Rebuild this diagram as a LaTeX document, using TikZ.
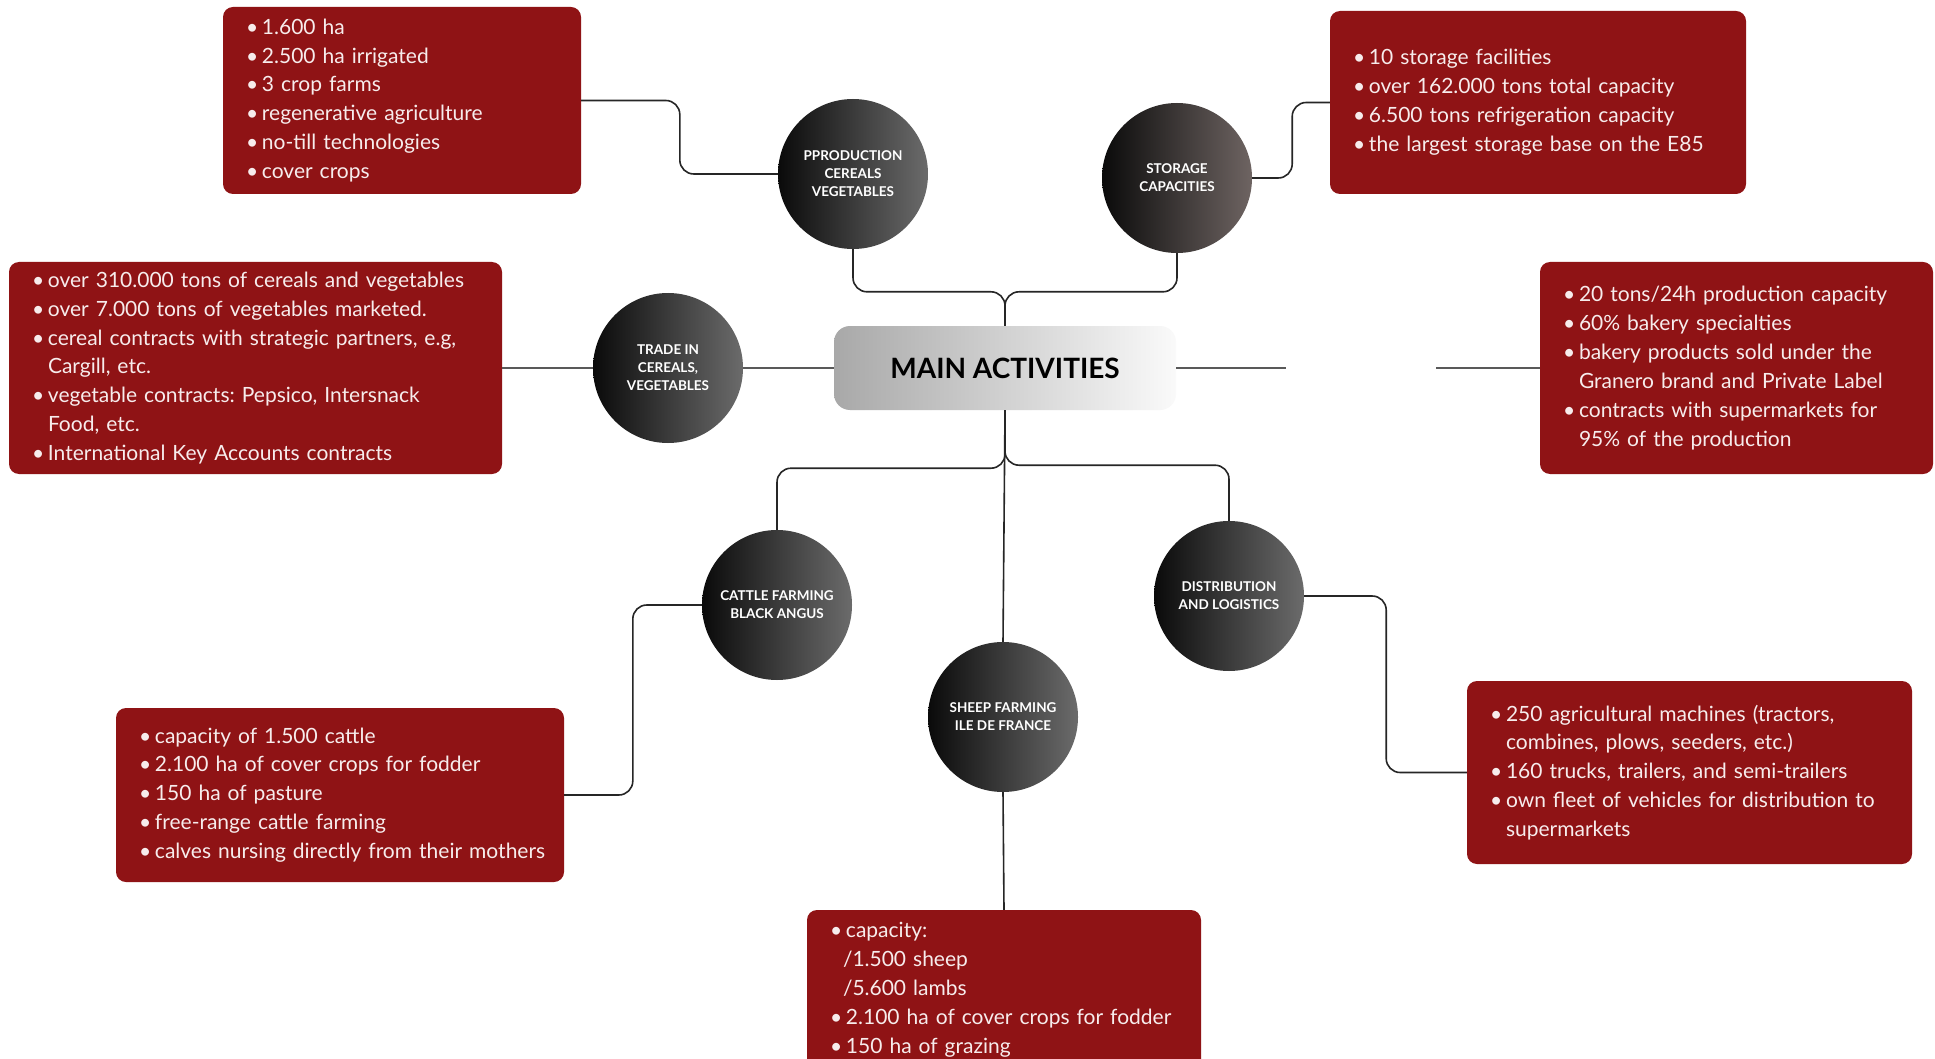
\documentclass[tikz,border=0pt]{standalone}
\usepackage{fontspec}
\setmainfont{Lato}
\usetikzlibrary{positioning}
\definecolor{boxred}{RGB}{143,19,21}
\definecolor{boxtxt}{RGB}{247,236,236}
\definecolor{linedark}{RGB}{38,38,38}
\definecolor{warmgray}{RGB}{110,100,98}
\newcommand{\itm}{\makebox[16pt][l]{\textbullet}}
\newcommand{\ind}{\hspace*{16pt}}
\frenchspacing
\begin{document}
\begin{tikzpicture}[x=1pt,y=-1pt,line join=round,
	detail/.style={fill=boxred,rounded corners=10pt,text=boxtxt,align=left,inner xsep=23pt,inner ysep=0pt,font=\fontsize{21}{28.9}\selectfont},
	topic/.style={circle,minimum size=150pt,inner sep=0pt,left color=black!96,right color=black!58,text=white,align=center,font=\bfseries\fontsize{13.5}{18}\selectfont},
	link/.style={draw=linedark,line width=1.6pt,rounded corners=14pt}]
	\fill[white] (0,0) rectangle (1935,1059);
	\useasboundingbox (0,0) rectangle (1935,1059);
	\clip (0,0) rectangle (1935,1059);
	% centre
	\node[rounded corners=16pt,left color=black!34,right color=black!2,minimum width=342pt,minimum height=84pt,font=\bfseries\fontsize{28}{30}\selectfont] (main) at (1005,368) {MAIN ACTIVITIES};
	% topics
	\node[topic] (prod) at (853,174) {PPRODUCTION\\CEREALS\\VEGETABLES};
	\node[topic,right color=warmgray] (stor) at (1177,178) {STORAGE\\CAPACITIES};
	\node[topic] (trade) at (668,368) {TRADE IN\\CEREALS,\\VEGETABLES};
	\node[circle,minimum size=150pt,inner sep=0pt] (bake) at (1361,368) {};
	\node[topic] (cattle) at (777,605) {CATTLE FARMING\\BLACK ANGUS};
	\node[topic] (sheep) at (1003,717) {SHEEP FARMING\\ILE DE FRANCE};
	\node[topic] (dist) at (1229,596) {DISTRIBUTION\\AND LOGISTICS};
	% details
	\node[detail,text width=312pt,minimum height=187pt] (prodbox) at (402,100.5) {\itm 1.600 ha\\\itm 2.500 ha irrigated\\\itm 3 crop farms\\\itm regenerative agriculture\\\itm no-till technologies\\\itm cover crops};
	\node[detail,text width=370pt,minimum height=183pt] (storbox) at (1538,102.5) {\itm 10 storage facilities\\\itm over 162.000 tons total capacity\\\itm 6.500 tons refrigeration capacity\\\itm the largest storage base on the E85};
	\node[detail,text width=447pt,minimum height=212pt] (tradebox) at (255.5,368) {\itm over 310.000 tons of cereals and vegetables\\\itm over 7.000 tons of vegetables marketed.\\\itm cereal contracts with strategic partners, e.g,\\\ind Cargill, etc.\\\itm vegetable contracts: Pepsico, Intersnack\\\ind Food, etc.\\\itm International Key Accounts contracts};
	\node[detail,text width=347pt,minimum height=212pt] (bakebox) at (1736.5,368) {\itm 20 tons/24h production capacity\\\itm 60\% bakery specialties\\\itm bakery products sold under the\\\ind Granero brand and Private Label\\\itm contracts with supermarkets for\\\ind 95\% of the production};
	\node[detail,text width=402pt,minimum height=174pt] (cattlebox) at (340,795) {\itm capacity of 1.500 cattle\\\itm 2.100 ha of cover crops for fodder\\\itm 150 ha of pasture\\\itm free-range cattle farming\\\mbox{\itm calves nursing directly from their mothers}};
	\node[detail,text width=399pt,minimum height=183pt] (distbox) at (1689.5,772.5) {\itm 250 agricultural machines (tractors,\\\ind combines, plows, seeders, etc.)\\\itm 160 trucks, trailers, and semi-trailers\\\itm own fleet of vehicles for distribution to\\\ind supermarkets};
	\node[detail,text width=348pt,minimum height=160pt] (sheepbox) at (1004,990) {\itm capacity:\\\hspace*{13pt}/1.500 sheep\\\hspace*{13pt}/5.600 lambs\\\itm 2.100 ha of cover crops for fodder\\\itm 150 ha of grazing};
	% links
	\draw[link] (main.north) -- ++(0,-34) -| (prod.south);
	\draw[link] (main.north) -- ++(0,-34) -| (stor.south);
	\draw[link] (main.south) -- ++(0,58) -| (cattle.north);
	\draw[link] (main.south) -- ++(0,55) -| (dist.north);
	\draw[link] (main.south) -- (sheep.north);
	\draw[link] (sheep.south) -- (sheepbox.north);
	\draw[link] (prod.west) -- ++(-98,0) |- (prodbox.east);
	\draw[link] (stor.east) -- ++(40,0) |- (storbox.west);
	\draw[link] (cattle.west) -- ++(-69,0) |- (cattlebox.east);
	\draw[link] (dist.east) -- ++(82,0) |- (distbox.west);
	\draw[link,draw=black!65] (tradebox.east) -- (trade.west);
	\draw[link,draw=black!65] (trade.east) -- (main.west);
	\draw[link,draw=black!65] (main.east) -- (bake.west);
	\draw[link,draw=black!65] (bake.east) -- (bakebox.west);
\end{tikzpicture}
\end{document}
